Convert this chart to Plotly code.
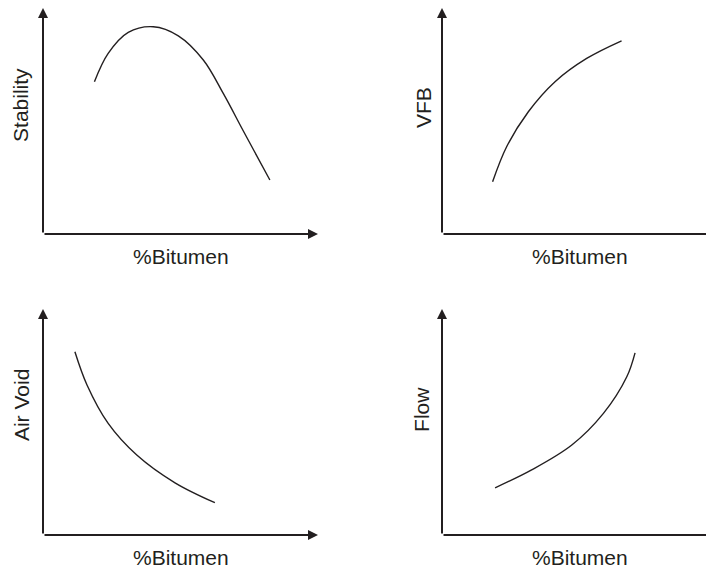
import plotly.graph_objects as go

# Marshall test trend sketches (arbitrary units, 0-100)
stability_x = [18.7, 23.7, 31.0, 40.1, 49.2, 58.3, 65.6, 72.8, 82.5]
stability_y = [67.4, 79.9, 89.2, 91.7, 87.7, 77.0, 62.1, 45.7, 23.9]

vfb_x = [18.4, 23.5, 31.4, 41.1, 52.6, 65.3]
vfb_y = [23.1, 38.6, 54.1, 67.4, 77.7, 85.5]

airvoid_x = [11.6, 16.0, 23.7, 34.1, 48.0, 62.5]
airvoid_y = [81.1, 66.4, 49.4, 35.4, 23.1, 14.3]

flow_x = [19.3, 32.6, 47.2, 58.7, 67.2, 70.2]
flow_y = [20.9, 28.8, 39.8, 53.8, 70.0, 80.6]

x_label = "%Bitumen"
y_labels = ["Stability", "VFB", "Air Void", "Flow"]

W, H = 706, 568
INK = "#231f20"
FONT = dict(family="Liberation Sans, Arial, sans-serif", size=21, color=INK)

panels = [
    (stability_x, stability_y, "x", "y"),
    (vfb_x, vfb_y, "x2", "y2"),
    (airvoid_x, airvoid_y, "x3", "y3"),
    (flow_x, flow_y, "x4", "y4"),
]

fig = go.Figure()
for xs, ys, xa, ya in panels:
    fig.add_trace(go.Scatter(x=xs, y=ys, xaxis=xa, yaxis=ya, mode="lines",
                             line=dict(color=INK, width=1.4, shape="spline", smoothing=1.0),
                             hoverinfo="skip", showlegend=False))

# panel placement in pixels: (left, right, bottom, top)
boxes = [(43, 318, 234, 8), (442, 706, 234, 8), (43, 318, 535, 309), (442, 706, 535, 309)]
# y label: (shift left of axis, centre as fraction of panel height)
ylab = [(22, 0.571), (18, 0.562), (22, 0.575), (20, 0.558)]

ax_style = dict(showgrid=False, zeroline=False, showticklabels=False, showline=False, ticks="")
annotations = []
for i, (l, r, b, t) in enumerate(boxes):
    n = "" if i == 0 else str(i + 1)
    xr = (r - l) / 2.75
    fig.update_layout(**{
        "xaxis" + n: dict(domain=[l / W, r / W], range=[0, xr], anchor="y" + n, **ax_style),
        "yaxis" + n: dict(domain=[1 - b / H, 1 - t / H], range=[0, 100], anchor="x" + n, **ax_style),
    })
    xd, yd = "x" + n + " domain", "y" + n + " domain"
    xhead = 1.0 if r < W else 1.04
    # axis arrows
    for hx, hy in [(xhead, 0), (0, 1)]:
        annotations.append(dict(xref=xd, yref=yd, axref=xd, ayref=yd, x=hx, y=hy, ax=0, ay=0,
                                text="", showarrow=True, arrowhead=2, arrowsize=1.0, arrowwidth=2,
                                arrowcolor=INK, standoff=0, startstandoff=0))
    # labels
    annotations.append(dict(xref=xd, yref=yd, x=0.5 if r < W else 0.5 * 275 / 264, y=0,
                            text=x_label, showarrow=False, xanchor="center", yanchor="middle",
                            yshift=-22, font=FONT))
    annotations.append(dict(xref=xd, yref=yd, x=0, y=ylab[i][1], text=y_labels[i], showarrow=False,
                            textangle=-90, xanchor="center", yanchor="middle",
                            xshift=-ylab[i][0], font=FONT))

fig.update_layout(width=W, height=H, margin=dict(l=0, r=0, t=0, b=0),
                  paper_bgcolor="white", plot_bgcolor="white",
                  annotations=annotations)

fig.write_html("out.html", config={"displayModeBar": False},
               post_script="document.body.style.margin='0';")
